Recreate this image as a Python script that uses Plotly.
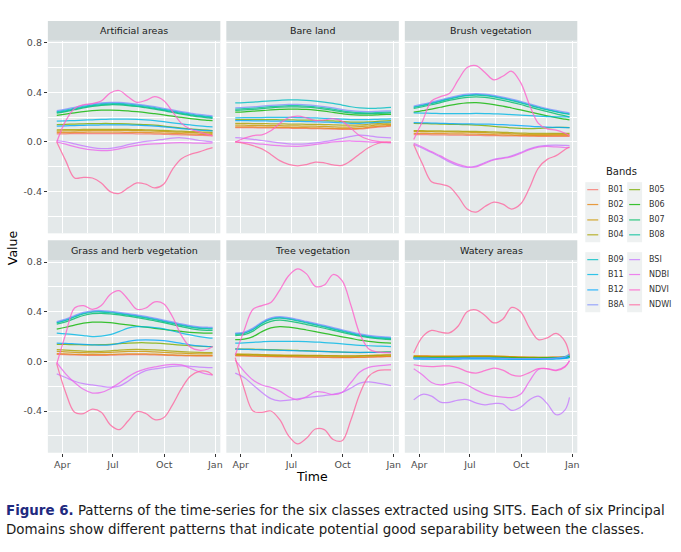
import math
import plotly.graph_objects as go

DATES = ["2018-03-22", "2018-04-07", "2018-04-23", "2018-05-09", "2018-05-25", "2018-06-10",
         "2018-06-26", "2018-07-12", "2018-07-28", "2018-08-13", "2018-08-29", "2018-09-14",
         "2018-09-30", "2018-10-16", "2018-11-01", "2018-11-17", "2018-12-03", "2018-12-19",
         "2018-12-27"]
BANDS = ["B01", "B02", "B03", "B04", "B05", "B06", "B07", "B08", "B09", "B11", "B12", "B8A",
         "BSI", "NDBI", "NDVI", "NDWI"]
CLASSES = ["Artificial areas", "Bare land", "Brush vegetation",
           "Grass and herb vegetation", "Tree vegetation", "Watery areas"]
X_TICKS = ["2018-04-01", "2018-07-01", "2018-10-01", "2019-01-01"]
X_TICK_LABELS = ["Apr", "Jul", "Oct", "Jan"]
X_MINOR = ["2018-02-15", "2018-05-16", "2018-08-16", "2018-11-16"]
Y_TICKS = [-0.4, 0.0, 0.4, 0.8]
Y_TICK_LABELS = ["-0.4", "0.0", "0.4", "0.8"]
Y_MINOR = [-0.6, -0.2, 0.2, 0.6]

ARTIFICIAL = {
    "B01": [0.065, 0.066, 0.067, 0.068, 0.068, 0.068, 0.068, 0.068, 0.067, 0.066, 0.065, 0.064, 0.062, 0.060, 0.058, 0.055, 0.053, 0.051, 0.050],
    "B02": [0.075, 0.076, 0.077, 0.078, 0.079, 0.079, 0.079, 0.079, 0.078, 0.077, 0.076, 0.074, 0.072, 0.070, 0.067, 0.064, 0.062, 0.060, 0.059],
    "B03": [0.088, 0.089, 0.090, 0.092, 0.093, 0.094, 0.094, 0.094, 0.093, 0.092, 0.090, 0.088, 0.085, 0.082, 0.079, 0.076, 0.073, 0.071, 0.070],
    "B04": [0.098, 0.099, 0.100, 0.101, 0.102, 0.102, 0.102, 0.102, 0.101, 0.100, 0.098, 0.096, 0.093, 0.090, 0.087, 0.084, 0.081, 0.079, 0.078],
    "B05": [0.140, 0.142, 0.145, 0.147, 0.148, 0.149, 0.149, 0.148, 0.146, 0.143, 0.140, 0.135, 0.128, 0.120, 0.112, 0.105, 0.100, 0.095, 0.092],
    "B06": [0.215, 0.225, 0.235, 0.245, 0.252, 0.256, 0.257, 0.255, 0.250, 0.244, 0.237, 0.228, 0.218, 0.208, 0.198, 0.189, 0.181, 0.175, 0.172],
    "B07": [0.232, 0.245, 0.260, 0.275, 0.287, 0.296, 0.300, 0.299, 0.294, 0.286, 0.276, 0.265, 0.252, 0.238, 0.225, 0.213, 0.202, 0.194, 0.190],
    "B08": [0.238, 0.251, 0.266, 0.281, 0.293, 0.302, 0.306, 0.305, 0.300, 0.292, 0.282, 0.271, 0.258, 0.244, 0.231, 0.219, 0.208, 0.200, 0.196],
    "B09": [0.245, 0.258, 0.273, 0.288, 0.300, 0.309, 0.313, 0.312, 0.307, 0.299, 0.289, 0.278, 0.265, 0.251, 0.238, 0.226, 0.215, 0.207, 0.203],
    "B11": [0.168, 0.170, 0.173, 0.176, 0.179, 0.182, 0.184, 0.185, 0.184, 0.182, 0.178, 0.172, 0.164, 0.155, 0.146, 0.137, 0.129, 0.124, 0.122],
    "B12": [0.128, 0.130, 0.132, 0.134, 0.136, 0.137, 0.138, 0.138, 0.137, 0.135, 0.132, 0.128, 0.122, 0.115, 0.108, 0.101, 0.096, 0.092, 0.090],
    "B8A": [0.252, 0.265, 0.280, 0.295, 0.307, 0.316, 0.320, 0.319, 0.314, 0.306, 0.296, 0.285, 0.272, 0.258, 0.245, 0.233, 0.222, 0.214, 0.210],
    "BSI": [0.010, 0.002, -0.015, -0.032, -0.045, -0.053, -0.052, -0.040, -0.022, -0.008, 0.004, 0.012, 0.022, 0.032, 0.034, 0.025, 0.012, 0.004, 0.000],
    "NDBI": [0.000, -0.018, -0.038, -0.054, -0.064, -0.070, -0.068, -0.056, -0.040, -0.028, -0.020, -0.015, -0.011, -0.007, -0.006, -0.008, -0.010, -0.010, -0.008],
    "NDVI": [0.000, 0.170, 0.270, 0.300, 0.310, 0.330, 0.395, 0.415, 0.365, 0.320, 0.335, 0.365, 0.335, 0.245, 0.150, 0.105, 0.080, 0.060, 0.050],
    "NDWI": [0.000, -0.150, -0.290, -0.285, -0.290, -0.330, -0.400, -0.415, -0.370, -0.330, -0.340, -0.370, -0.340, -0.220, -0.135, -0.100, -0.080, -0.055, -0.045],
}

BARE = {
    "B01": [0.116, 0.116, 0.115, 0.114, 0.113, 0.112, 0.111, 0.110, 0.109, 0.108, 0.106, 0.104, 0.102, 0.102, 0.105, 0.112, 0.120, 0.125, 0.127],
    "B02": [0.122, 0.122, 0.121, 0.120, 0.119, 0.118, 0.117, 0.116, 0.115, 0.114, 0.112, 0.109, 0.107, 0.107, 0.110, 0.118, 0.126, 0.131, 0.133],
    "B03": [0.135, 0.135, 0.134, 0.133, 0.132, 0.131, 0.130, 0.129, 0.128, 0.127, 0.125, 0.122, 0.120, 0.120, 0.123, 0.130, 0.137, 0.141, 0.143],
    "B04": [0.150, 0.150, 0.149, 0.148, 0.147, 0.146, 0.145, 0.144, 0.143, 0.142, 0.140, 0.138, 0.136, 0.135, 0.137, 0.143, 0.149, 0.153, 0.155],
    "B05": [0.180, 0.180, 0.180, 0.180, 0.180, 0.179, 0.178, 0.177, 0.176, 0.175, 0.173, 0.170, 0.165, 0.161, 0.160, 0.162, 0.166, 0.170, 0.172],
    "B06": [0.240, 0.243, 0.248, 0.253, 0.258, 0.262, 0.265, 0.265, 0.262, 0.256, 0.248, 0.238, 0.228, 0.220, 0.217, 0.217, 0.219, 0.222, 0.223],
    "B07": [0.255, 0.258, 0.263, 0.269, 0.275, 0.280, 0.283, 0.283, 0.280, 0.274, 0.265, 0.254, 0.243, 0.234, 0.229, 0.228, 0.230, 0.233, 0.234],
    "B08": [0.265, 0.268, 0.273, 0.279, 0.285, 0.290, 0.293, 0.293, 0.290, 0.284, 0.275, 0.264, 0.252, 0.242, 0.236, 0.235, 0.237, 0.240, 0.241],
    "B09": [0.315, 0.318, 0.322, 0.327, 0.332, 0.336, 0.339, 0.339, 0.336, 0.330, 0.322, 0.312, 0.298, 0.284, 0.274, 0.270, 0.272, 0.276, 0.278],
    "B11": [0.195, 0.196, 0.197, 0.197, 0.198, 0.198, 0.198, 0.197, 0.196, 0.194, 0.191, 0.188, 0.184, 0.181, 0.180, 0.181, 0.183, 0.185, 0.186],
    "B12": [0.172, 0.172, 0.171, 0.170, 0.169, 0.168, 0.167, 0.166, 0.165, 0.163, 0.161, 0.158, 0.154, 0.151, 0.151, 0.154, 0.158, 0.161, 0.162],
    "B8A": [0.275, 0.278, 0.283, 0.289, 0.295, 0.300, 0.303, 0.303, 0.300, 0.294, 0.285, 0.274, 0.262, 0.252, 0.246, 0.245, 0.247, 0.250, 0.251],
    "BSI": [0.035, 0.030, 0.022, 0.012, 0.002, -0.008, -0.015, -0.018, -0.015, -0.008, 0.002, 0.015, 0.030, 0.045, 0.055, 0.050, 0.040, 0.035, 0.034],
    "NDBI": [0.000, -0.004, -0.010, -0.018, -0.025, -0.030, -0.034, -0.035, -0.030, -0.020, -0.010, 0.000, 0.006, 0.008, 0.004, 0.000, -0.004, -0.005, -0.005],
    "NDVI": [0.000, 0.030, 0.052, 0.058, 0.090, 0.150, 0.195, 0.208, 0.195, 0.172, 0.178, 0.188, 0.168, 0.110, 0.050, 0.020, 0.005, -0.003, -0.005],
    "NDWI": [0.000, -0.012, -0.030, -0.055, -0.100, -0.150, -0.180, -0.192, -0.182, -0.162, -0.168, -0.185, -0.188, -0.150, -0.095, -0.045, -0.012, 0.000, 0.000],
}

BRUSH = {
    "B01": [0.060, 0.059, 0.058, 0.057, 0.056, 0.055, 0.054, 0.053, 0.052, 0.051, 0.050, 0.049, 0.048, 0.047, 0.046, 0.046, 0.046, 0.046, 0.046],
    "B02": [0.070, 0.069, 0.068, 0.067, 0.066, 0.065, 0.064, 0.063, 0.061, 0.059, 0.057, 0.055, 0.053, 0.052, 0.051, 0.051, 0.052, 0.052, 0.052],
    "B03": [0.085, 0.084, 0.083, 0.082, 0.081, 0.080, 0.079, 0.077, 0.075, 0.072, 0.069, 0.066, 0.063, 0.061, 0.060, 0.060, 0.061, 0.062, 0.062],
    "B04": [0.092, 0.091, 0.090, 0.089, 0.088, 0.087, 0.086, 0.085, 0.083, 0.081, 0.078, 0.075, 0.072, 0.070, 0.069, 0.069, 0.070, 0.070, 0.070],
    "B05": [0.150, 0.149, 0.147, 0.145, 0.143, 0.141, 0.139, 0.136, 0.132, 0.126, 0.119, 0.113, 0.109, 0.108, 0.110, 0.114, 0.117, 0.117, 0.116],
    "B06": [0.240, 0.252, 0.265, 0.280, 0.295, 0.307, 0.315, 0.317, 0.312, 0.302, 0.289, 0.274, 0.258, 0.242, 0.226, 0.211, 0.196, 0.184, 0.178],
    "B07": [0.270, 0.284, 0.300, 0.318, 0.335, 0.350, 0.360, 0.364, 0.360, 0.350, 0.336, 0.320, 0.302, 0.282, 0.263, 0.244, 0.226, 0.210, 0.200],
    "B08": [0.278, 0.293, 0.310, 0.328, 0.346, 0.362, 0.373, 0.378, 0.374, 0.364, 0.350, 0.334, 0.316, 0.296, 0.276, 0.258, 0.242, 0.228, 0.222],
    "B09": [0.283, 0.298, 0.315, 0.333, 0.351, 0.367, 0.378, 0.383, 0.379, 0.369, 0.355, 0.339, 0.321, 0.301, 0.281, 0.263, 0.247, 0.233, 0.227],
    "B11": [0.235, 0.233, 0.231, 0.229, 0.228, 0.228, 0.229, 0.230, 0.229, 0.227, 0.224, 0.220, 0.216, 0.212, 0.208, 0.205, 0.203, 0.202, 0.202],
    "B12": [0.157, 0.155, 0.153, 0.151, 0.149, 0.147, 0.146, 0.145, 0.144, 0.142, 0.139, 0.135, 0.131, 0.127, 0.123, 0.120, 0.118, 0.116, 0.115],
    "B8A": [0.290, 0.305, 0.322, 0.340, 0.358, 0.374, 0.385, 0.390, 0.386, 0.376, 0.362, 0.346, 0.328, 0.308, 0.288, 0.270, 0.254, 0.240, 0.234],
    "BSI": [-0.020, -0.050, -0.085, -0.120, -0.160, -0.190, -0.205, -0.195, -0.165, -0.140, -0.128, -0.112, -0.085, -0.055, -0.035, -0.027, -0.025, -0.028, -0.030],
    "NDBI": [-0.010, -0.042, -0.078, -0.112, -0.150, -0.180, -0.200, -0.200, -0.172, -0.145, -0.132, -0.118, -0.092, -0.062, -0.042, -0.036, -0.040, -0.045, -0.046],
    "NDVI": [0.020, 0.170, 0.330, 0.365, 0.390, 0.500, 0.600, 0.615, 0.560, 0.500, 0.530, 0.570, 0.480, 0.300, 0.150, 0.105, 0.095, 0.070, 0.050],
    "NDWI": [-0.020, -0.180, -0.320, -0.340, -0.360, -0.440, -0.540, -0.565, -0.520, -0.485, -0.500, -0.540, -0.500, -0.370, -0.210, -0.140, -0.110, -0.060, -0.040],
}

GRASS = {
    "B01": [0.056, 0.054, 0.052, 0.050, 0.049, 0.049, 0.050, 0.052, 0.054, 0.055, 0.054, 0.052, 0.050, 0.048, 0.046, 0.045, 0.044, 0.044, 0.044],
    "B02": [0.062, 0.060, 0.057, 0.055, 0.054, 0.054, 0.056, 0.058, 0.060, 0.061, 0.060, 0.058, 0.055, 0.052, 0.050, 0.048, 0.047, 0.046, 0.046],
    "B03": [0.080, 0.077, 0.073, 0.070, 0.069, 0.070, 0.073, 0.077, 0.080, 0.081, 0.080, 0.077, 0.073, 0.069, 0.066, 0.063, 0.061, 0.060, 0.060],
    "B04": [0.095, 0.091, 0.086, 0.082, 0.080, 0.081, 0.085, 0.091, 0.095, 0.096, 0.095, 0.092, 0.088, 0.083, 0.079, 0.075, 0.072, 0.070, 0.070],
    "B05": [0.138, 0.137, 0.135, 0.134, 0.134, 0.135, 0.138, 0.143, 0.148, 0.150, 0.150, 0.147, 0.143, 0.137, 0.131, 0.126, 0.122, 0.120, 0.120],
    "B06": [0.260, 0.275, 0.293, 0.308, 0.316, 0.317, 0.312, 0.303, 0.294, 0.285, 0.276, 0.267, 0.258, 0.249, 0.241, 0.234, 0.230, 0.228, 0.228],
    "B07": [0.300, 0.318, 0.345, 0.370, 0.384, 0.387, 0.382, 0.374, 0.364, 0.353, 0.341, 0.327, 0.312, 0.296, 0.280, 0.265, 0.254, 0.250, 0.249],
    "B08": [0.310, 0.330, 0.358, 0.383, 0.396, 0.398, 0.392, 0.383, 0.373, 0.362, 0.350, 0.336, 0.321, 0.306, 0.290, 0.276, 0.266, 0.263, 0.263],
    "B09": [0.315, 0.335, 0.364, 0.389, 0.402, 0.404, 0.398, 0.389, 0.379, 0.368, 0.356, 0.342, 0.327, 0.312, 0.296, 0.282, 0.272, 0.269, 0.269],
    "B11": [0.228, 0.222, 0.215, 0.208, 0.200, 0.203, 0.215, 0.240, 0.268, 0.280, 0.278, 0.272, 0.262, 0.245, 0.228, 0.213, 0.200, 0.190, 0.188],
    "B12": [0.148, 0.146, 0.142, 0.138, 0.134, 0.131, 0.133, 0.145, 0.162, 0.172, 0.174, 0.172, 0.167, 0.158, 0.146, 0.134, 0.125, 0.120, 0.118],
    "B8A": [0.320, 0.340, 0.370, 0.395, 0.408, 0.410, 0.404, 0.395, 0.385, 0.374, 0.362, 0.348, 0.333, 0.318, 0.302, 0.288, 0.278, 0.275, 0.275],
    "BSI": [-0.100, -0.130, -0.160, -0.180, -0.190, -0.200, -0.208, -0.200, -0.160, -0.110, -0.075, -0.060, -0.050, -0.040, -0.036, -0.040, -0.046, -0.050, -0.050],
    "NDBI": [-0.010, -0.100, -0.170, -0.225, -0.255, -0.250, -0.220, -0.175, -0.125, -0.085, -0.060, -0.045, -0.032, -0.024, -0.028, -0.055, -0.085, -0.105, -0.110],
    "NDVI": [-0.020, 0.220, 0.430, 0.450, 0.420, 0.450, 0.540, 0.570, 0.500, 0.420, 0.430, 0.480, 0.465, 0.360, 0.210, 0.115, 0.090, 0.100, 0.120],
    "NDWI": [-0.020, -0.250, -0.410, -0.420, -0.385, -0.410, -0.510, -0.550, -0.480, -0.405, -0.420, -0.470, -0.455, -0.350, -0.220, -0.120, -0.080, -0.085, -0.110],
}

TREE = {
    "B01": [0.045, 0.044, 0.042, 0.040, 0.038, 0.037, 0.036, 0.035, 0.034, 0.033, 0.032, 0.031, 0.031, 0.031, 0.032, 0.034, 0.036, 0.038, 0.039],
    "B02": [0.048, 0.047, 0.045, 0.043, 0.041, 0.040, 0.039, 0.038, 0.037, 0.036, 0.035, 0.034, 0.033, 0.033, 0.034, 0.036, 0.038, 0.040, 0.041],
    "B03": [0.060, 0.059, 0.057, 0.055, 0.053, 0.052, 0.051, 0.050, 0.049, 0.048, 0.047, 0.046, 0.045, 0.045, 0.046, 0.048, 0.050, 0.052, 0.053],
    "B04": [0.055, 0.054, 0.052, 0.050, 0.048, 0.047, 0.046, 0.046, 0.045, 0.045, 0.044, 0.043, 0.042, 0.042, 0.043, 0.045, 0.048, 0.050, 0.051],
    "B05": [0.100, 0.099, 0.098, 0.096, 0.094, 0.092, 0.090, 0.088, 0.086, 0.083, 0.080, 0.077, 0.074, 0.072, 0.071, 0.072, 0.074, 0.076, 0.076],
    "B06": [0.175, 0.180, 0.200, 0.240, 0.270, 0.280, 0.276, 0.266, 0.253, 0.240, 0.226, 0.212, 0.198, 0.185, 0.172, 0.162, 0.154, 0.149, 0.147],
    "B07": [0.208, 0.215, 0.244, 0.292, 0.322, 0.332, 0.325, 0.312, 0.297, 0.282, 0.267, 0.250, 0.234, 0.218, 0.203, 0.191, 0.183, 0.178, 0.176],
    "B08": [0.218, 0.226, 0.257, 0.306, 0.338, 0.348, 0.340, 0.326, 0.310, 0.294, 0.278, 0.260, 0.243, 0.226, 0.210, 0.198, 0.190, 0.185, 0.183],
    "B09": [0.223, 0.231, 0.262, 0.312, 0.344, 0.354, 0.346, 0.332, 0.316, 0.300, 0.284, 0.266, 0.249, 0.232, 0.216, 0.204, 0.196, 0.191, 0.189],
    "B11": [0.147, 0.150, 0.154, 0.158, 0.161, 0.162, 0.162, 0.161, 0.159, 0.156, 0.152, 0.147, 0.141, 0.135, 0.130, 0.126, 0.123, 0.121, 0.120],
    "B12": [0.098, 0.097, 0.095, 0.093, 0.091, 0.089, 0.087, 0.085, 0.083, 0.081, 0.079, 0.077, 0.075, 0.073, 0.072, 0.072, 0.073, 0.074, 0.074],
    "B8A": [0.228, 0.236, 0.268, 0.318, 0.350, 0.360, 0.352, 0.338, 0.322, 0.306, 0.290, 0.272, 0.255, 0.238, 0.222, 0.210, 0.202, 0.197, 0.195],
    "BSI": [-0.095, -0.130, -0.190, -0.250, -0.300, -0.318, -0.312, -0.302, -0.292, -0.283, -0.275, -0.265, -0.250, -0.215, -0.175, -0.165, -0.175, -0.188, -0.195],
    "NDBI": [0.010, -0.080, -0.150, -0.190, -0.210, -0.240, -0.285, -0.310, -0.285, -0.245, -0.250, -0.268, -0.250, -0.170, -0.085, -0.048, -0.036, -0.030, -0.027],
    "NDVI": [0.050, 0.250, 0.420, 0.450, 0.475, 0.575, 0.690, 0.745, 0.705, 0.605, 0.615, 0.700, 0.650, 0.450, 0.220, 0.100, 0.075, 0.070, 0.068],
    "NDWI": [0.030, -0.220, -0.400, -0.410, -0.400, -0.470, -0.600, -0.665, -0.620, -0.545, -0.550, -0.630, -0.640, -0.470, -0.260, -0.120, -0.075, -0.068, -0.068],
}

WATERY = {
    "B01": [0.040, 0.040, 0.039, 0.038, 0.038, 0.038, 0.039, 0.040, 0.040, 0.039, 0.037, 0.034, 0.032, 0.031, 0.031, 0.031, 0.032, 0.033, 0.034],
    "B02": [0.045, 0.044, 0.043, 0.042, 0.042, 0.042, 0.043, 0.044, 0.044, 0.043, 0.041, 0.038, 0.035, 0.034, 0.033, 0.033, 0.034, 0.035, 0.036],
    "B03": [0.042, 0.041, 0.040, 0.040, 0.040, 0.041, 0.042, 0.043, 0.043, 0.042, 0.040, 0.037, 0.034, 0.033, 0.032, 0.032, 0.033, 0.034, 0.035],
    "B04": [0.038, 0.037, 0.036, 0.036, 0.036, 0.037, 0.038, 0.039, 0.039, 0.038, 0.036, 0.033, 0.031, 0.030, 0.029, 0.029, 0.030, 0.031, 0.032],
    "B05": [0.034, 0.033, 0.032, 0.032, 0.032, 0.033, 0.034, 0.035, 0.035, 0.034, 0.032, 0.030, 0.028, 0.027, 0.027, 0.027, 0.028, 0.030, 0.034],
    "B06": [0.030, 0.029, 0.028, 0.028, 0.028, 0.029, 0.030, 0.031, 0.031, 0.030, 0.028, 0.026, 0.025, 0.025, 0.025, 0.026, 0.028, 0.032, 0.040],
    "B07": [0.029, 0.028, 0.027, 0.027, 0.027, 0.028, 0.029, 0.030, 0.030, 0.029, 0.027, 0.025, 0.024, 0.024, 0.024, 0.025, 0.028, 0.035, 0.050],
    "B08": [0.028, 0.027, 0.026, 0.026, 0.026, 0.027, 0.028, 0.029, 0.029, 0.028, 0.026, 0.024, 0.023, 0.023, 0.023, 0.024, 0.028, 0.038, 0.060],
    "B09": [0.026, 0.025, 0.024, 0.024, 0.024, 0.025, 0.026, 0.027, 0.027, 0.026, 0.024, 0.022, 0.021, 0.021, 0.021, 0.022, 0.025, 0.033, 0.050],
    "B11": [0.022, 0.021, 0.020, 0.020, 0.020, 0.021, 0.022, 0.022, 0.022, 0.021, 0.020, 0.019, 0.019, 0.019, 0.019, 0.020, 0.022, 0.026, 0.035],
    "B12": [0.020, 0.019, 0.018, 0.018, 0.018, 0.019, 0.020, 0.020, 0.020, 0.019, 0.018, 0.017, 0.017, 0.017, 0.017, 0.018, 0.020, 0.024, 0.030],
    "B8A": [0.027, 0.026, 0.025, 0.025, 0.025, 0.026, 0.027, 0.028, 0.028, 0.027, 0.025, 0.023, 0.022, 0.022, 0.022, 0.023, 0.027, 0.036, 0.055],
    "BSI": [-0.310, -0.265, -0.280, -0.328, -0.330, -0.312, -0.308, -0.335, -0.350, -0.340, -0.342, -0.395, -0.370, -0.310, -0.280, -0.340, -0.430, -0.390, -0.290],
    "NDBI": [-0.060, -0.110, -0.170, -0.190, -0.178, -0.168, -0.190, -0.230, -0.262, -0.280, -0.287, -0.292, -0.265, -0.160, -0.065, -0.058, -0.070, -0.040, 0.005],
    "NDVI": [-0.027, -0.038, -0.042, -0.038, -0.036, -0.052, -0.082, -0.094, -0.075, -0.055, -0.070, -0.108, -0.118, -0.090, -0.058, -0.060, -0.075, -0.045, 0.005],
    "NDWI": [0.067, 0.200, 0.250, 0.235, 0.230, 0.285, 0.400, 0.415, 0.370, 0.310, 0.340, 0.435, 0.400, 0.270, 0.175, 0.190, 0.225, 0.160, 0.050],
}

CLASS_DATA = [ARTIFICIAL, BARE, BRUSH, GRASS, TREE, WATERY]


def hcl_hex(h, c=100.0, l=65.0):
    """ggplot2 hue palette colour (polar CIE-Luv -> sRGB)."""
    hr = math.radians(h)
    u, v = c * math.cos(hr), c * math.sin(hr)
    Xn, Yn, Zn = 95.047, 100.0, 108.883
    Y = Yn * ((l + 16) / 116) ** 3
    den = Xn + 15 * Yn + 3 * Zn
    un, vn = 4 * Xn / den, 9 * Yn / den
    up, vp = u / (13 * l) + un, v / (13 * l) + vn
    X = Y * 9 * up / (4 * vp)
    Z = Y * (12 - 3 * up - 20 * vp) / (4 * vp)
    X, Y, Z = X / 100, Y / 100, Z / 100
    rgb = [3.2404542 * X - 1.5371385 * Y - 0.4985314 * Z,
           -0.9692660 * X + 1.8760108 * Y + 0.0415560 * Z,
           0.0556434 * X - 0.2040259 * Y + 1.0572252 * Z]
    out = []
    for t in rgb:
        t = 12.92 * t if t <= 0.0031308 else 1.055 * t ** (1 / 2.4) - 0.055
        out.append(int(round(min(max(t, 0), 1) * 255)))
    return "#%02X%02X%02X" % tuple(out)


n = len(BANDS)
COLORS = {b: hcl_hex(15 + 360.0 / n * i) for i, b in enumerate(BANDS)}

W, H = 681, 552
COLS = [(48, 221), (227, 400), (406, 579)]
ROWS = [(37, 231), (258, 452)]
STRIP_H = 20
PANEL_BG = "#E4E9EA"
STRIP_BG = "#D3DADB"
FONT = "DejaVu Sans"
LINE_OPACITY = 0.8


def px(x):
    return x / W


def py(y):
    return 1 - y / H


fig = go.Figure()
shapes = []
annotations = []

for k, (cls, data) in enumerate(zip(CLASSES, CLASS_DATA)):
    r, c = divmod(k, 3)
    ax = k + 1
    xs = "" if ax == 1 else str(ax)
    for b in BANDS:
        fig.add_trace(go.Scatter(
            x=DATES, y=data[b], mode="lines", name=b,
            line=dict(color=COLORS[b], width=1.25, shape="spline", smoothing=1.0),
            opacity=LINE_OPACITY, showlegend=False, hoverinfo="skip",
            xaxis="x" + xs, yaxis="y" + xs))
    x0, x1 = COLS[c]
    y0, y1 = ROWS[r]
    bottom = r == 1
    left = c == 0
    fig.layout["xaxis" + xs] = dict(
        domain=[px(x0), px(x1)], anchor="y" + xs, type="date",
        range=["2018-03-06", "2019-01-10"],
        tickmode="array", tickvals=X_TICKS, ticktext=X_TICK_LABELS,
        showticklabels=bottom, ticks="outside" if bottom else "",
        ticklen=3, tickwidth=1, tickcolor="#333333",
        tickfont=dict(family=FONT, size=9.5, color="#4D4D4D"),
        showgrid=True, gridcolor="white", gridwidth=1.1,
        minor=dict(tickmode="array", tickvals=X_MINOR, showgrid=True,
                   gridcolor="white", gridwidth=0.5, ticks=""),
        zeroline=False, showline=False, fixedrange=True)
    fig.layout["yaxis" + xs] = dict(
        domain=[py(y1), py(y0)], anchor="x" + xs,
        range=[-0.736, 0.816],
        tickmode="array", tickvals=Y_TICKS, ticktext=Y_TICK_LABELS,
        showticklabels=left, ticks="outside" if left else "",
        ticklen=3, tickwidth=1, tickcolor="#333333",
        tickfont=dict(family=FONT, size=9.5, color="#4D4D4D"),
        showgrid=True, gridcolor="white", gridwidth=1.1,
        minor=dict(tickmode="array", tickvals=Y_MINOR, showgrid=True,
                   gridcolor="white", gridwidth=0.5, ticks=""),
        zeroline=False, showline=False, fixedrange=True)
    # facet strip
    shapes.append(dict(type="rect", xref="paper", yref="paper",
                       x0=px(x0), x1=px(x1), y0=py(y0), y1=py(y0 - STRIP_H),
                       fillcolor=STRIP_BG, line=dict(width=0), layer="below"))
    annotations.append(dict(text=cls, xref="paper", yref="paper",
                            x=px((x0 + x1) / 2), y=py(y0 - STRIP_H / 2),
                            xanchor="center", yanchor="middle", showarrow=False,
                            font=dict(family=FONT, size=9.5, color="#1A1A1A")))

# axis titles
annotations.append(dict(text="Time", xref="paper", yref="paper", x=px(313), y=py(476),
                        xanchor="center", yanchor="middle", showarrow=False,
                        font=dict(family=FONT, size=12.5, color="#000000")))
annotations.append(dict(text="Value", xref="paper", yref="paper", x=px(12), y=py(245),
                        xanchor="center", yanchor="middle", showarrow=False, textangle=-90,
                        font=dict(family=FONT, size=12.5, color="#000000")))

# legend (drawn manually, ggplot two-column blocks)
annotations.append(dict(text="Bands", xref="paper", yref="paper", x=px(606), y=py(169),
                        xanchor="left", yanchor="middle", showarrow=False,
                        font=dict(family=FONT, size=10, color="#1A1A1A")))
ROW_Y = [[187, 202, 217.5, 232.5], [257.5, 272.5, 288, 303]]
KEY_X = [(587, 602), (629, 644)]
LABEL_X = [608, 649]
for blk in range(2):
    for col in range(2):
        kx0, kx1 = KEY_X[col]
        ys = ROW_Y[blk]
        shapes.append(dict(type="rect", xref="paper", yref="paper",
                           x0=px(kx0), x1=px(kx1), y0=py(ys[0] - 7.5), y1=py(ys[-1] + 7.5),
                           fillcolor="#EEF1F1", line=dict(width=0)))
        for row in range(4):
            b = BANDS[blk * 8 + col * 4 + row]
            yy = ys[row]
            shapes.append(dict(type="line", xref="paper", yref="paper",
                               x0=px(kx0 + 2), x1=px(kx1 - 2), y0=py(yy), y1=py(yy),
                               line=dict(color=COLORS[b], width=1.2), opacity=LINE_OPACITY))
            annotations.append(dict(text=b, xref="paper", yref="paper",
                                    x=px(LABEL_X[col]), y=py(yy),
                                    xanchor="left", yanchor="middle", showarrow=False,
                                    font=dict(family=FONT, size=8, color="#333333")))

# caption
CAP_FONT = "Liberation Sans Narrow, DejaVu Sans Condensed, Arial Narrow, sans-serif"
annotations.append(dict(
    text="<span style='color:#1F2A80'><b>Figure 6.</b></span> Patterns of the time-series for the six classes "
         "extracted using SITS. Each of six Principal",
    xref="paper", yref="paper", x=px(4), y=py(510), xanchor="left", yanchor="middle",
    showarrow=False, font=dict(family=CAP_FONT, size=14.9, color="#1A1A1A")))
annotations.append(dict(
    text="Domains show different patterns that indicate potential good separability between the classes.",
    xref="paper", yref="paper", x=px(4), y=py(529), xanchor="left", yanchor="middle",
    showarrow=False, font=dict(family=CAP_FONT, size=14.9, color="#1A1A1A")))

fig.update_layout(
    width=W, height=H, autosize=False,
    margin=dict(l=0, r=0, t=0, b=0),
    paper_bgcolor="white", plot_bgcolor=PANEL_BG,
    shapes=shapes, annotations=annotations, showlegend=False,
    font=dict(family=FONT),
)

fig.write_html("out.html", config={"displayModeBar": False},
               post_script="document.body.style.margin='0';document.body.style.overflow='hidden';")
